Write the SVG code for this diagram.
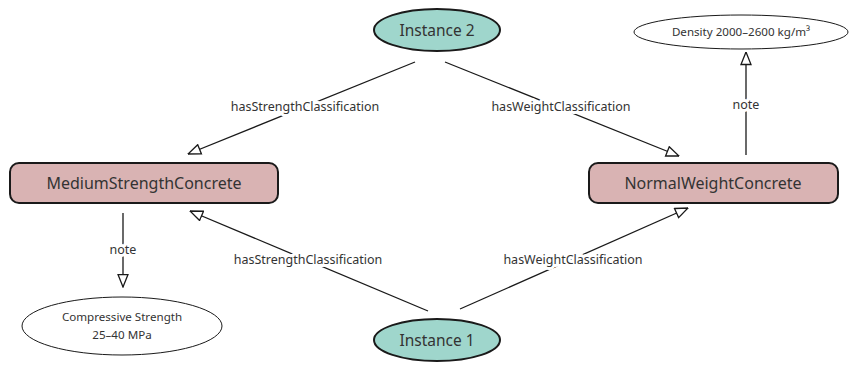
<svg xmlns="http://www.w3.org/2000/svg" width="849" height="365" viewBox="0 0 849 365">
<style>
.cls{fill:#d9b3b3;stroke:#1a1a1a;stroke-width:2}
.inst{fill:#9fd6cc;stroke:#1a1a1a;stroke-width:2}
.note{fill:#ffffff;stroke:#1a1a1a;stroke-width:1}
.big{font-family:"Noto Sans","Open Sans",sans-serif;font-size:16px;fill:#333;text-anchor:middle}
.inl{font-family:"Noto Sans","Open Sans",sans-serif;font-size:15.5px;fill:#333;text-anchor:middle}
.small{font-family:"Noto Sans","Open Sans",sans-serif;font-size:11.6px;fill:#333;text-anchor:middle}
.lbl{font-family:"Noto Sans","Open Sans",sans-serif;font-size:12.5px;fill:#333;text-anchor:middle;stroke:#fff;stroke-width:6;paint-order:stroke;stroke-linejoin:round}
.edge{stroke:#1a1a1a;stroke-width:1.3;fill:none;marker-end:url(#tri)}
</style>
<defs>
<marker id="tri" viewBox="0 0 14 12" refX="13.5" refY="6" markerWidth="14" markerHeight="12" markerUnits="userSpaceOnUse" orient="auto">
<path d="M1,1 L13.5,6 L1,11 Z" fill="#fff" stroke="#1a1a1a" stroke-width="1.3"/>
</marker>
</defs>
<rect width="849" height="365" fill="#fff"/>
<g id="connectors">
<line class="edge" x1="415" y1="62" x2="188" y2="154"/>
<line class="edge" x1="445" y1="62" x2="679" y2="156"/>
<line class="edge" x1="428" y1="311" x2="190" y2="211"/>
<line class="edge" x1="460" y1="309" x2="688" y2="208"/>
<line class="edge" x1="123" y1="213" x2="123" y2="287"/>
<line class="edge" x1="746" y1="155" x2="746" y2="52"/>
<text class="lbl" x="305" y="111">hasStrengthClassification</text>
<text class="lbl" x="561" y="111">hasWeightClassification</text>
<text class="lbl" x="308" y="264">hasStrengthClassification</text>
<text class="lbl" x="573" y="264">hasWeightClassification</text>
<text class="lbl" x="123" y="254">note</text>
<text class="lbl" x="746" y="109">note</text>
</g>
<g id="instance2">
<ellipse class="inst" cx="437" cy="30" rx="63" ry="21"/>
<text class="inl" x="437" y="36">Instance 2</text>
</g>
<g id="instance1">
<ellipse class="inst" cx="437" cy="340" rx="63" ry="21"/>
<text class="inl" x="437" y="346">Instance 1</text>
</g>
<g id="medium">
<rect class="cls" x="10" y="163" width="268" height="40" rx="9"/>
<text class="big" x="144" y="189">MediumStrengthConcrete</text>
</g>
<g id="normal">
<rect class="cls" x="589" y="163" width="249" height="40" rx="9"/>
<text class="big" x="713" y="189">NormalWeightConcrete</text>
</g>
<g id="density">
<ellipse class="note" cx="741" cy="32" rx="107" ry="17"/>
<text class="small" x="741" y="36">Density 2000–2600 kg/m³</text>
</g>
<g id="compressive">
<ellipse class="note" cx="122" cy="326" rx="100" ry="29"/>
<text class="small" x="122" y="321">Compressive Strength</text>
<text class="small" x="122" y="339">25–40 MPa</text>
</g>
</svg>
